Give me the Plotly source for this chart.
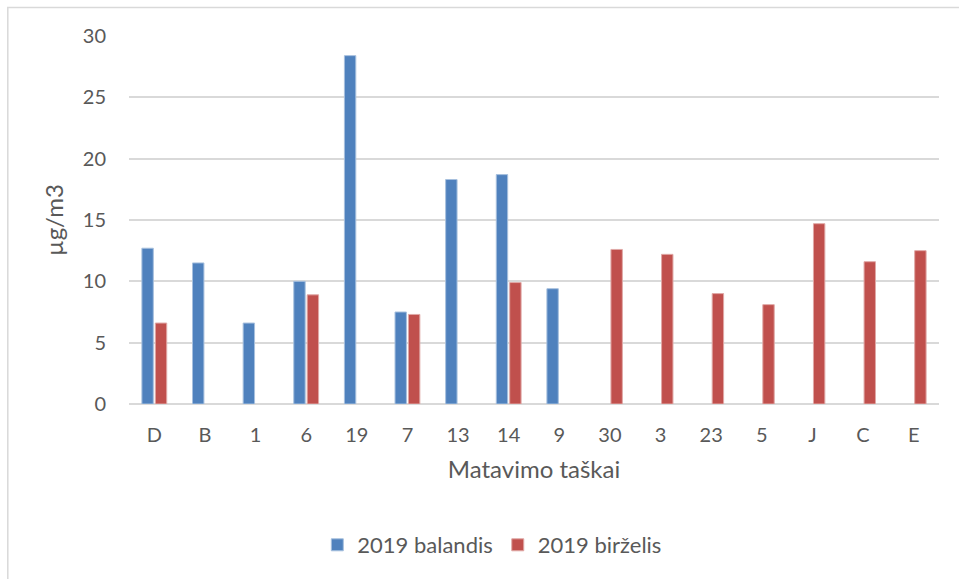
import plotly.graph_objects as go

categories = ["D", "B", "1", "6", "19", "7", "13", "14", "9", "30", "3", "23", "5", "J", "C", "E"]
balandis = [12.7, 11.5, 6.6, 10.0, 28.4, 7.5, 18.3, 18.7, 9.4, None, None, None, None, None, None, None]
birzelis = [6.6, None, None, 8.9, None, 7.3, None, 9.9, None, 12.6, 12.2, 9.0, 8.1, 14.7, 11.6, 12.5]
y_ticks = [0, 5, 10, 15, 20, 25, 30]

FONT = "Lato"
GREY = "#595959"

fig = go.Figure()
fig.add_trace(go.Bar(x=categories, y=balandis, name="2019 balandis",
                     marker=dict(color="#4F81BD", line=dict(color="#A7C0DE", width=1))))
fig.add_trace(go.Bar(x=categories, y=birzelis, name="2019 birželis",
                     marker=dict(color="#C0504D", line=dict(color="#E0A8A6", width=1))))

L, R, T, B = 128.7, 20.3, 36, 175
W, H = 959, 579
pw, ph = W - L - R, H - T - B

def px(x):
    return (x - L) / pw

def py(y):
    return (H - B - y) / ph

fig.update_layout(
    width=W, height=H,
    margin=dict(l=L, r=R, t=T, b=B, pad=0),
    paper_bgcolor="white", plot_bgcolor="white",
    font=dict(family=FONT, size=20, color=GREY),
    barmode="group", bargap=0.47, bargroupgap=0.15,
    showlegend=True,
    legend=dict(orientation="h", x=px(492), y=py(545), xanchor="center", yanchor="middle",
                font=dict(size=22, color=GREY), itemwidth=30, tracegroupgap=0),
    xaxis=dict(showgrid=False, showline=False, ticks="", tickfont=dict(size=20, color=GREY),
               ticklabelstandoff=17,
               title=dict(text="Matavimo taškai", font=dict(size=24, color=GREY), standoff=16)),
    yaxis=dict(range=[0, 30], tickvals=y_ticks, showgrid=True, gridcolor="#D9D9D9", gridwidth=1.5,
               zeroline=True, zerolinecolor="#D9D9D9", zerolinewidth=1.5, showline=False, ticks="",
               tickfont=dict(size=20, color=GREY), ticklabelstandoff=22,
               title=dict(text="µg/m3", font=dict(size=24, color=GREY), standoff=12)),
    shapes=[dict(type="rect", xref="paper", yref="paper", x0=px(7.5), x1=px(968), y0=py(588), y1=py(7.5),
                 line=dict(color="#D9D9D9", width=1.5), fillcolor="rgba(0,0,0,0)", layer="below")],
)

fig.write_html("out.html")
